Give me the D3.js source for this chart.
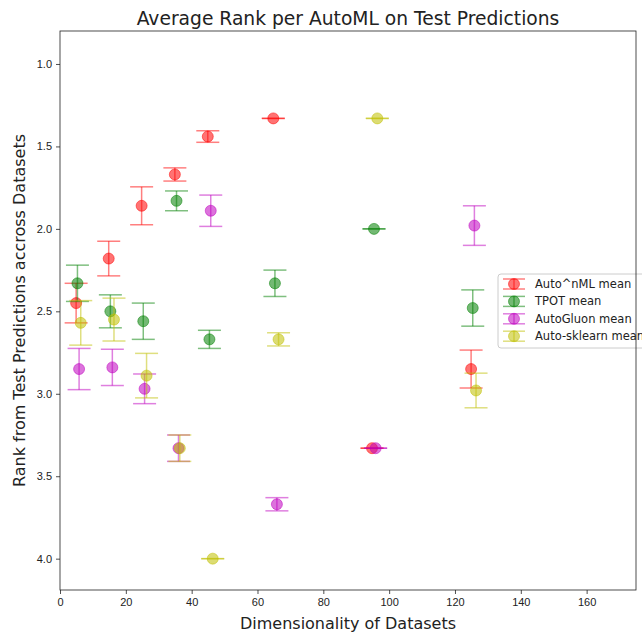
<!DOCTYPE html>
<html>
<head>
<meta charset="utf-8">
<script src="https://cdn.jsdelivr.net/npm/d3@7"></script>
<style>
  body { margin: 0; background: #fff; }
  svg { font-family: "DejaVu Sans", sans-serif; display: block; }
  .axis text { font-size: 11px; fill: #222; }
  .axis line { stroke: #222; stroke-width: 0.8; }
</style>
</head>
<body>
<div id="chart"></div>
<script>
// dimensionality (x) per series, slightly offset in the source plot
const xRed    = [4.9, 14.8, 24.8, 34.9, 44.9, 64.8, 94.8, 124.9];
const xGreen  = [5.3, 15.3, 25.3, 35.4, 45.4, 65.3, 95.4, 125.4];
const xPurple = [5.8, 15.9, 25.7, 36.0, 45.8, 65.9, 95.9, 125.9];
const xYellow = [6.3, 16.4, 26.3, 36.4, 46.4, 66.4, 96.4, 126.4];

// mean rank and error per series
const autoNml      = [2.45, 2.18, 1.86, 1.67, 1.44, 1.33, 3.33, 2.85];
const autoNmlErr   = [0.12, 0.105, 0.115, 0.04, 0.035, 0, 0, 0.115];
const tpot         = [2.33, 2.50, 2.56, 1.83, 2.67, 2.33, 2.0, 2.48];
const tpotErr      = [0.11, 0.10, 0.11, 0.06, 0.055, 0.08, 0, 0.11];
const autoGluon    = [2.85, 2.84, 2.97, 3.33, 1.89, 3.67, 3.33, 1.98];
const autoGluonErr = [0.125, 0.11, 0.09, 0.08, 0.095, 0.04, 0, 0.12];
const autoSklearn    = [2.57, 2.55, 2.89, 3.33, 4.0, 2.67, 1.33, 2.98];
const autoSklearnErr = [0.135, 0.13, 0.135, 0.08, 0, 0.04, 0, 0.105];

const seriesNames = ['Auto^nML mean', 'TPOT mean', 'AutoGluon mean', 'Auto-sklearn mean'];
const xTicks = [0, 20, 40, 60, 80, 100, 120, 140, 160];
const yTicks = [1.0, 1.5, 2.0, 2.5, 3.0, 3.5, 4.0];

const series = [
  { name: seriesNames[0], color: '#ff0000', xs: xRed, ys: autoNml, err: autoNmlErr },
  { name: seriesNames[1], color: '#008000', xs: xGreen, ys: tpot, err: tpotErr },
  { name: seriesNames[2], color: '#bf00bf', xs: xPurple, ys: autoGluon, err: autoGluonErr },
  { name: seriesNames[3], color: '#bfbf00', xs: xYellow, ys: autoSklearn, err: autoSklearnErr }
];

const W = 642, H = 635, M = { t: 31, r: 6, b: 45, l: 60 };
const svg = d3.select('#chart').append('svg').attr('width', W).attr('height', H);

const x = d3.scaleLinear().domain([0, 175]).range([M.l, W - M.r]);
const y = d3.scaleLinear().domain([0.8, 4.19]).range([M.t, H - M.b]);

const gx = svg.append('g').attr('class', 'axis').attr('transform', `translate(0,${H - M.b})`)
  .call(d3.axisBottom(x).tickValues(xTicks).tickSize(4).tickPadding(4).tickFormat(d3.format('d')));
const gy = svg.append('g').attr('class', 'axis').attr('transform', `translate(${M.l},0)`)
  .call(d3.axisLeft(y).tickValues(yTicks).tickSize(4).tickPadding(4).tickFormat(d3.format('.1f')));
gx.select('.domain').remove();
gy.select('.domain').remove();
gx.selectAll('text').attr('font-size', 11).attr('font-family', null);
gy.selectAll('text').attr('font-size', 11).attr('font-family', null);

const CAP = 11.5, R = 5.5;

series.forEach(s => {
  const g = svg.append('g');
  const pts = s.xs.map((xv, i) => ({ x: xv, y: s.ys[i], e: s.err[i] }));
  g.selectAll('line.v').data(pts).enter().append('line')
    .attr('x1', d => x(d.x)).attr('x2', d => x(d.x))
    .attr('y1', d => y(d.y - d.e)).attr('y2', d => y(d.y + d.e))
    .attr('stroke', s.color).attr('stroke-opacity', 0.5).attr('stroke-width', 1.5);
  [-1, 1].forEach(sign => {
    g.selectAll(null).data(pts).enter().append('line')
      .attr('x1', d => x(d.x) - CAP).attr('x2', d => x(d.x) + CAP)
      .attr('y1', d => y(d.y + sign * d.e)).attr('y2', d => y(d.y + sign * d.e))
      .attr('stroke', s.color).attr('stroke-opacity', 0.5).attr('stroke-width', 1.5);
  });
  g.selectAll('circle').data(pts).enter().append('circle')
    .attr('cx', d => x(d.x)).attr('cy', d => y(d.y)).attr('r', R)
    .attr('fill', s.color).attr('fill-opacity', 0.55)
    .attr('stroke', s.color).attr('stroke-opacity', 0.5).attr('stroke-width', 1);
});

// legend
const lg = svg.append('g').attr('transform', 'translate(498,274)');
lg.append('rect').attr('width', 175).attr('height', 74).attr('rx', 3)
  .attr('fill', '#fff').attr('fill-opacity', 0.8).attr('stroke', '#cccccc').attr('stroke-width', 1);
series.forEach((s, i) => {
  const cy = 10 + i * 17.4;
  const row = lg.append('g');
  row.append('line').attr('x1', 16).attr('x2', 16).attr('y1', cy - 5).attr('y2', cy + 5)
    .attr('stroke', s.color).attr('stroke-opacity', 0.5).attr('stroke-width', 1.5);
  [-5, 5].forEach(o => row.append('line').attr('x1', 5).attr('x2', 27).attr('y1', cy + o).attr('y2', cy + o)
    .attr('stroke', s.color).attr('stroke-opacity', 0.5).attr('stroke-width', 1.5));
  row.append('circle').attr('cx', 16).attr('cy', cy).attr('r', R)
    .attr('fill', s.color).attr('fill-opacity', 0.55)
    .attr('stroke', s.color).attr('stroke-opacity', 0.5);
  row.append('text').attr('x', 37).attr('y', cy).attr('dy', '0.35em')
    .attr('font-size', 11.5).attr('fill', '#222').text(s.name);
});

// frame
svg.append('rect').attr('x', M.l).attr('y', M.t)
  .attr('width', W - M.r - M.l).attr('height', H - M.b - M.t)
  .attr('fill', 'none').attr('stroke', '#222').attr('stroke-width', 0.8);

svg.append('text').attr('x', (M.l + W - M.r) / 2).attr('y', 25).attr('text-anchor', 'middle')
  .attr('font-size', 18.7).attr('fill', '#222').text('Average Rank per AutoML on Test Predictions');
svg.append('text').attr('x', (M.l + W - M.r) / 2).attr('y', 629).attr('text-anchor', 'middle')
  .attr('font-size', 16).attr('fill', '#222').text('Dimensionality of Datasets');
svg.append('text').attr('transform', `translate(25,${(M.t + H - M.b) / 2}) rotate(-90)`)
  .attr('text-anchor', 'middle').attr('font-size', 16).attr('fill', '#222')
  .text('Rank from Test Predictions accross Datasets');
</script>
</body>
</html>
